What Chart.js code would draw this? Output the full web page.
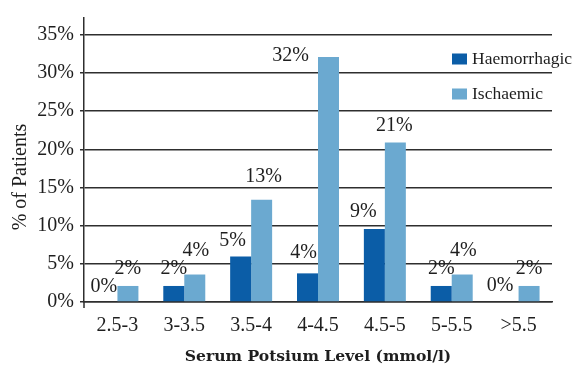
<!DOCTYPE html>
<html>
<head>
<meta charset="utf-8">
<script src="https://cdn.jsdelivr.net/npm/chart.js@4/dist/chart.umd.min.js"></script>
<style>
  html, body { margin: 0; padding: 0; background: #ffffff; }
  #wrap { width: 577px; height: 371px; position: relative; }
</style>
</head>
<body>
<div id="wrap"><canvas id="c" width="577" height="371"></canvas></div>
<script>
// ---- data ----
const categories = ['2.5-3', '3-3.5', '3.5-4', '4-4.5', '4.5-5', '5-5.5', '>5.5'];
const seriesNames = ['Haemorrhagic', 'Ischaemic'];
const haemorrhagic = [0, 2.1, 5.95, 3.75, 9.55, 2.1, 0];
const ischaemic = [2.1, 3.6, 13.4, 32.1, 20.9, 3.6, 2.1];
const haemLabels = ['0%', '2%', '5%', '4%', '9%', '2%', '0%'];
const ischLabels = ['2%', '4%', '13%', '32%', '21%', '4%', '2%'];
const yTicks = [0, 5, 10, 15, 20, 25, 30, 35];
const yTitle = '% of Patients';
const xTitle = 'Serum Potsium Level (mmol/l)';

const SERIF = "'Liberation Serif', 'Times New Roman', serif";
const INK = '#1e1e1e';
const GRID = '#2e2e2e';

// per-label nudges [dx, dy] relative to default position (bar centre, 17px above top)
const labelNudge = {
  '0-0': [-3, 2], '0-2': [-8, 1], '0-3': [-4, -4], '0-4': [-11, 0], '0-6': [-8, 1],
  '1-1': [1, -7], '1-2': [2, -6], '1-3': [-38, 16], '1-4': [-1, 0], '1-5': [1, -7]
};

const overlay = {
  id: 'overlay',
  afterDatasetsDraw(chart) {
    const ctx = chart.ctx;
    const labelSets = [haemLabels, ischLabels];
    ctx.save();
    ctx.font = '20px ' + SERIF;
    ctx.fillStyle = INK;
    ctx.textAlign = 'center';
    ctx.textBaseline = 'middle';
    chart.data.datasets.forEach((ds, di) => {
      const meta = chart.getDatasetMeta(di);
      meta.data.forEach((bar, i) => {
        const n = labelNudge[di + '-' + i] || [0, 0];
        ctx.fillText(labelSets[di][i], bar.x + n[0], bar.y - 17 + n[1]);
      });
    });
    ctx.restore();
  },
  afterDraw(chart) {
    const ctx = chart.ctx;
    const a = chart.chartArea;
    ctx.save();
    // small extension of the y axis below zero
    ctx.strokeStyle = GRID;
    ctx.lineWidth = 1.5;
    ctx.beginPath();
    ctx.moveTo(a.left, a.bottom);
    ctx.lineTo(a.left, a.bottom + 6);
    ctx.stroke();
    // legend
    ctx.textAlign = 'left';
    ctx.textBaseline = 'middle';
    ctx.font = '17.5px ' + SERIF;
    chart.data.datasets.forEach((ds, di) => {
      const y = 59 + di * 35;
      ctx.fillStyle = ds.backgroundColor;
      ctx.fillRect(452, y - 5.5, 15, 11);
      ctx.fillStyle = INK;
      ctx.fillText(ds.label, 472, y + 0.5);
    });
    // axis titles
    ctx.fillStyle = INK;
    ctx.textAlign = 'center';
    ctx.font = 'bold 15.6px "DejaVu Serif", serif';
    ctx.fillText(xTitle, (a.left + a.right) / 2, 357);
    ctx.translate(21, 177);
    ctx.rotate(-Math.PI / 2);
    ctx.font = '20px ' + SERIF;
    ctx.fillText(yTitle, 0, 0);
    ctx.restore();
  }
};

new Chart(document.getElementById('c'), {
  type: 'bar',
  data: {
    labels: categories,
    datasets: [
      { label: seriesNames[0], data: haemorrhagic, backgroundColor: '#0B5DA7',
        categoryPercentage: 0.628, barPercentage: 1.0 },
      { label: seriesNames[1], data: ischaemic, backgroundColor: '#6BA9D0',
        categoryPercentage: 0.628, barPercentage: 1.0 }
    ]
  },
  options: {
    responsive: false,
    animation: false,
    layout: { padding: { top: 13, right: 25, left: 0, bottom: 0 } },
    plugins: { legend: { display: false }, tooltip: { enabled: false } },
    scales: {
      x: {
        grid: { display: false, drawTicks: false },
        border: { display: true, color: GRID, width: 1.5 },
        ticks: { color: INK, font: { family: SERIF, size: 20 }, padding: 12, maxRotation: 0 },
        afterFit(s) { s.height = 69; }
      },
      y: {
        min: 0, max: 37.2,
        afterBuildTicks(s) { s.ticks = yTicks.map(v => ({ value: v })); },
        grid: { color: GRID, lineWidth: 1.5, tickLength: 4 },
        border: { display: true, color: GRID, width: 1.5 },
        ticks: { color: INK, font: { family: SERIF, size: 20 }, padding: 6,
                 callback: v => v + '%' },
        afterFit(s) { s.width = 84; }
      }
    }
  },
  plugins: [overlay]
});
</script>
</body>
</html>
